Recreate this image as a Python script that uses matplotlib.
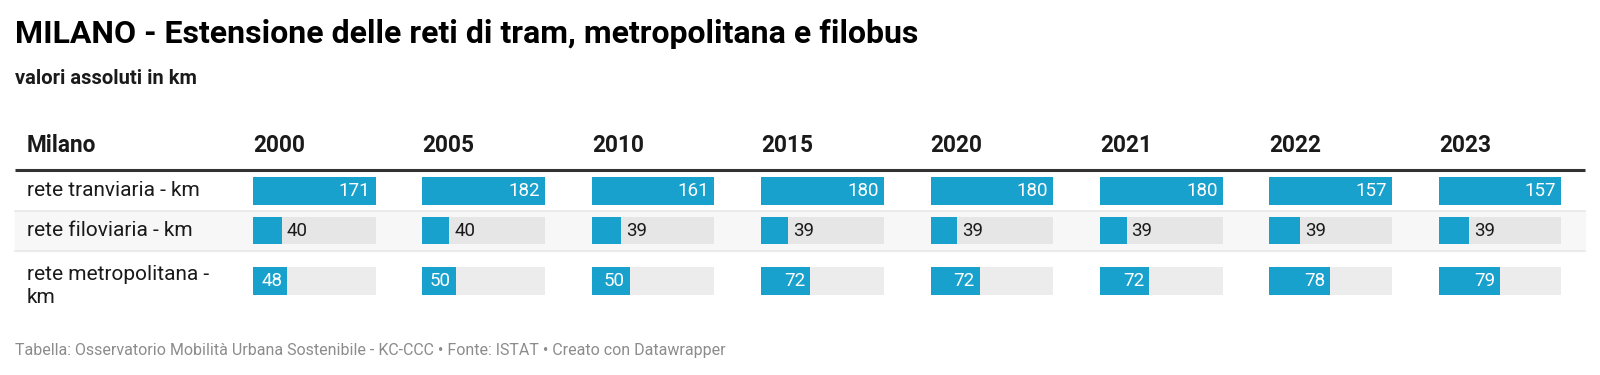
import matplotlib
matplotlib.use('Agg')
import matplotlib.pyplot as plt

plt.rcParams['font.family'] = ['Roboto', 'DejaVu Sans']

# data
years = ['2000', '2005', '2010', '2015', '2020', '2021', '2022', '2023']
row_labels = ['rete tranviaria - km', 'rete filoviaria - km', 'rete metropolitana -\nkm']
tram = [171, 182, 161, 180, 180, 180, 157, 157]
filobus = [40, 40, 39, 39, 39, 39, 39, 39]
metro = [48, 50, 50, 72, 72, 72, 78, 79]
rows = [tram, filobus, metro]

title = 'MILANO - Estensione delle reti di tram, metropolitana e filobus'
subtitle = 'valori assoluti in km'
first_header = 'Milano'
footer = ('Tabella: Osservatorio Mobilità Urbana Sostenibile - KC-CCC \u2022 '
          'Fonte: ISTAT \u2022 Creato con Datawrapper')

BLUE = '#18a1cd'
W, H = 1600, 375

fig = plt.figure(figsize=(W / 100, H / 100), dpi=100)
ax = fig.add_axes([0, 0, 1, 1])
ax.set_xlim(0, W)
ax.set_ylim(H, 0)
ax.axis('off')

# layout (pixels)
left = 15
right = 1585
col_x0 = 253
col_step = 169.4
track_w = 122.5
bar_h = 27.5
row_centers = [191, 230.5, 281]
label_offsets = [0, 0, 5]
row_tracks = [None, '#e6e6e6', '#ececec']

ax.text(left, 34, title, fontsize=23, fontweight='bold', color='#000000',
        va='center', ha='left')
ax.text(left, 78, subtitle, fontsize=14.5, fontweight='bold', color='#1a1a1a',
        va='center', ha='left')

# header
ax.text(27, 145.5, first_header, fontsize=16.3, fontweight='bold', color='#1a1a1a',
        va='center', ha='left')
for i, y in enumerate(years):
    ax.text(col_x0 + i * col_step, 145.5, y, fontsize=16.3, fontweight='bold',
            color='#1a1a1a', va='center', ha='left')
ax.plot([left, right], [169.5, 169.5], color='#333333', lw=2.2,
        solid_capstyle='butt')

# striped row + separators
ax.axhspan(210.5, 250.5, xmin=left / W, xmax=right / W, color='#f7f7f7', zorder=0)
for yy in (210.5, 250.5):
    ax.plot([left, right], [yy, yy], color='#e8e8e8', lw=1.2, zorder=1)

col_max = [max(r[i] for r in rows) for i in range(len(years))]

for r, (label, vals) in enumerate(zip(row_labels, rows)):
    yc = row_centers[r]
    ax.text(27, yc + label_offsets[r], label, fontsize=15, color='#1a1a1a',
            va='center', ha='left', linespacing=1.3)
    for i, v in enumerate(vals):
        x0 = col_x0 + i * col_step
        w = v / col_max[i] * track_w
        if row_tracks[r] is not None:
            ax.barh(yc, track_w, left=x0, height=bar_h, color=row_tracks[r],
                    zorder=2)
        ax.barh(yc, w, left=x0, height=bar_h, color=BLUE, zorder=3)
        if w > 33:
            ax.text(x0 + w - 5, yc + 0.5, str(v), fontsize=13.5, color='white',
                    va='center', ha='right', zorder=4)
        else:
            ax.text(x0 + w + 5, yc + 0.5, str(v), fontsize=13.5, color='#1a1a1a',
                    va='center', ha='left', zorder=4)

ax.text(left, 351, footer, fontsize=11.5, color='#8c8c8c', va='center', ha='left')

fig.savefig('out.png', dpi=100, facecolor='white')
